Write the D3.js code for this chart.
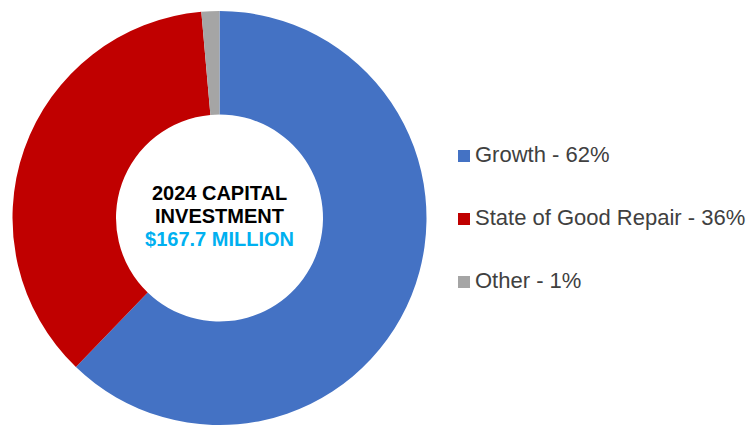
<!DOCTYPE html>
<html>
<head>
<meta charset="utf-8">
<script src="https://cdn.jsdelivr.net/npm/d3@7"></script>
<style>
  html, body { margin: 0; padding: 0; background: #fff; }
  svg { display: block; }
  text { font-family: "Liberation Sans", Arial, sans-serif; }
</style>
</head>
<body>
<svg id="chart" width="749" height="425"></svg>
<script>
// Share of 2024 capital investment by program (percent)
const categories = ["Growth", "State of Good Repair", "Other"];
const shares = [62.2, 36.4, 1.4];
const colors = ["#4472C4", "#C00000", "#A5A5A5"];
const centerTitle = ["2024 CAPITAL", "INVESTMENT"];
const centerAmount = "$167.7 MILLION";

const svg = d3.select("#chart");
const cx = 219.5, cy = 218, outerR = 207, innerR = 103.5;

const data = categories.map((c, i) => ({ name: c, value: shares[i], color: colors[i] }));

const pie = d3.pie().value(d => d.value).sort(null);
const arc = d3.arc().innerRadius(innerR).outerRadius(outerR);

const g = svg.append("g").attr("transform", `translate(${cx},${cy})`);
g.selectAll("path")
  .data(pie(data))
  .join("path")
  .attr("d", arc)
  .attr("fill", d => d.data.color);

// Centre label
const label = g.append("text")
  .attr("text-anchor", "middle")
  .attr("font-weight", "bold")
  .attr("font-size", 20);
label.append("tspan").attr("x", 0).attr("y", -18).attr("fill", "#000").text(centerTitle[0]);
label.append("tspan").attr("x", 0).attr("y", 5).attr("fill", "#000").text(centerTitle[1]);
label.append("tspan").attr("x", 0).attr("y", 28).attr("fill", "#00B0F0").text(centerAmount);

// Legend
const legendY = d3.scalePoint().domain(categories).range([162, 288]);
const legend = svg.append("g");
const items = legend.selectAll("g")
  .data(data)
  .join("g")
  .attr("transform", d => `translate(458,${legendY(d.name)})`);
items.append("rect")
  .attr("x", 0).attr("y", -12)
  .attr("width", 12).attr("height", 12)
  .attr("fill", d => d.color);
items.append("text")
  .attr("x", 17).attr("y", 0)
  .attr("font-size", 22)
  .attr("fill", "#404040")
  .text(d => `${d.name} - ${Math.round(d.value)}%`);
</script>
</body>
</html>
